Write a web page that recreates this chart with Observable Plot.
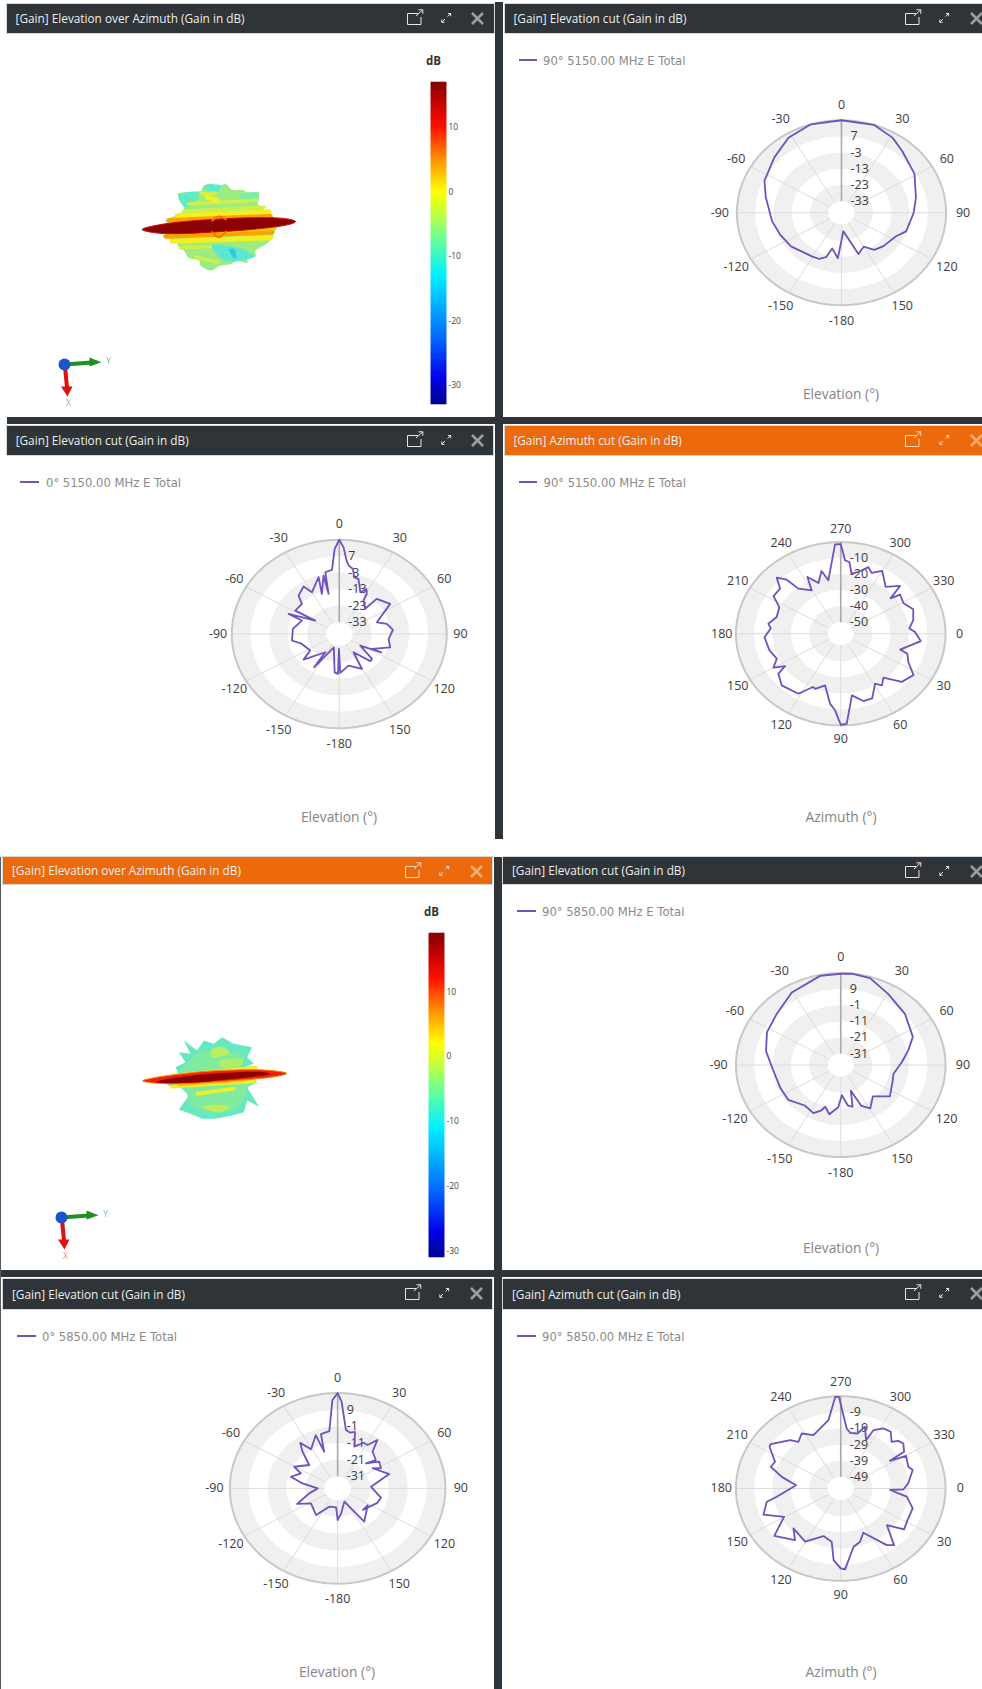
<!DOCTYPE html>
<html><head><meta charset="utf-8">
<script src="https://cdn.jsdelivr.net/npm/d3@7"></script>
<script src="https://cdn.jsdelivr.net/npm/@observablehq/plot@0.6"></script>
<style>
html,body{margin:0;padding:0;background:#fff}
#page{position:relative;width:982px;height:1689px;overflow:hidden;font-family:"Open Sans",sans-serif}
.abs{position:absolute}
.hdr{position:absolute;box-shadow:0 0 0 1px #d8d8d8;color:#eceff0;font-size:11.8px;white-space:nowrap}
.leg{position:absolute;color:#8a8a8a;font-family:"DejaVu Sans",sans-serif;font-size:11.6px;white-space:nowrap;line-height:14px}
.axt{position:absolute;color:#858585;font-size:13.8px;white-space:nowrap;transform:translate(-50%,-50%)}
svg{overflow:visible}
</style></head><body><div id="page"></div>
<script>
// ---- Polar cuts: angle (degrees) and gain (dB) ----
const el90_5150_ang=[0,18,31,41,59,77,90,108,116,132,142,150,160,175,184,193,197,203,211,233,248,262,283,295,313,328,343];
const el90_5150_db =[17,17,14,10.4,6.4,1.6,-0.7,-3,-7,-9.3,-11,-15.9,-13,-28.7,-12,-17.5,-11.4,-9.1,-8.7,-5.6,-4,-1.9,2.3,6.3,10,14.5,17];

const el0_5150_ang=[0,2.5,5,7,10.5,13,17,24,28,31,32.5,42,43,56,70.5,76.5,85,96.6,106.7,117.6,116.6,122.5,131,135,145.7,150.4,165.5,178.7,181,181.6,186,199.5,213.4,213.7,230.6,237,253,261,277,292.3,294.2,302.5,301.2,312.6,317,326.6,330.1,342.3,339.2,346.7,346.9,348.8,354.3,357.3];
const el0_5150_db =[17,12.4,4.5,1.6,-0.1,-4.9,-5.2,-12.5,-9.3,-11.7,-16.1,-19.6,-11,-7.5,-18.9,-14.1,-11.5,-13.7,-11.9,-20.5,-15.2,-26.9,-17.1,-16.8,-26.7,-15.7,-20.3,-16.5,-31,-15.9,-16.7,-31.5,-15.9,-26.8,-15.6,-21.7,-19.4,-14.7,-15.3,-18.7,-10.6,-25,-12.8,-13.2,-8.4,-5.7,-11,-4,-14.2,-3.8,-15.2,-2,-1.1,11.5];

const az90_5150_ang=[270,273,276,279,284,290,294,300,310,317.4,321,323,331,339,348,355,358.5,366,377,379,385.6,393,402,409.7,415,419,427,433.6,441,446.7,450,453.7,457.6,464.8,472,474.6,481.7,495,503.8,506.4,510,516,525,537,545,549,556.6,566.4,572.6,580.3,585,588.8,590.6,599.6,602.8,609,615,618.5,626.8];
const az90_5150_db =[-1.4,-11.4,-12.2,-19.3,-17.5,-13,-15.7,-11.9,-19,-13.2,-22.2,-16.6,-18,-14.8,-16.7,-19.6,-16.6,-13.3,-23.3,-18.7,-16.3,-9.8,-12.3,-21.2,-17.9,-20.8,-13.3,-13.4,-18.2,-0.9,-0.4,-9.3,-13.1,-23.8,-20.1,-20.6,-13.2,-11.6,-15,-20.7,-14.8,-19,-16.9,-15.5,-18.9,-17.2,-20.7,-19.8,-13.6,-13.8,-7.8,-12.4,-20.8,-25.8,-17.4,-23.3,-16.7,-23.2,-1.4];

const el90_5850_ang=[0,6,16.5,30.5,48,66,76,87,101,109,126,138,149,156,161,166,171,174,178,183,191.5,198,201,206.5,218,233,247,266,282,297,312,329.4,348.5];
const el90_5850_db =[18.6,19,18.2,13,9.1,4.9,-0.2,-4.8,-8.9,-8.2,-5,-12,-6.8,-10.4,-21.3,-11.5,-12.6,-15.9,-19.5,-11.9,-7,-10.9,-7.8,-4.8,-6.3,-2.3,-2.3,-1,3.5,7,9,14.3,18.4];

const el0_5850_ang=[0,2.3,7.2,11.3,15.2,19.5,26.7,31.4,36,40,50,45,54,62.4,57,72.6,87,103.7,113,134,122,144.8,147.7,156,173,180,184,202,215.5,237.6,246.5,258.8,270,279,285.7,294.8,299.4,313,319.8,324,329,340,342,344.8,352.7,357];
const el0_5850_db =[19,13.9,-2.9,-4.1,-3,-11.6,-7.5,-7.7,-2.3,-9.3,-11.7,-16.9,-10.9,-12.2,-16,-9.5,-20.4,-14.5,-15.5,-19.6,-19.3,-13.7,-21.6,-29.4,-23,-19.2,-26.7,-26.3,-18.5,-21.4,-14.7,-22.8,-27.6,-19.3,-12.4,-16.7,-11.7,-17.6,-9.3,-4.4,-10.8,-4.2,-15,-4.4,-3.5,14.9];

const az90_5850_ang=[269,275,278.4,285,289,294.8,296.3,302,307.8,313.9,316.8,320.8,326.7,327.5,330.4,340,343.8,355,361,362,368,377.5,388.3,396.3,402,410.3,414.4,425.8,432.3,439,447.3,450,455,458.5,467.7,480.5,496.2,487.9,501,510.4,519,528.5,531.6,544.8,552.6,559.4,564.8,573.6,575.7,587.3,591.3,598,605.7,614.8,621,627];
const az90_5850_db =[0.6,-18.9,-21.3,-20.9,-15.7,-23.2,-15.9,-12.3,-11.7,-16.1,-13.1,-12.1,-14.8,-24.3,-15.2,-16.9,-15.3,-19.2,-22,-29.2,-19.8,-15,-14.8,-13.3,-22.3,-10.6,-13,-26.1,-21.5,-19.4,-6,-6.7,-11.6,-22.8,-25.2,-17.9,-20.4,-15.6,-9.5,-20.6,-11,-15,-20.9,-31.7,-23.2,-15.7,-16.7,-9.5,-9.1,-15.5,-19.2,-16,-19.9,-16.6,-13.3,0.7];

// ---- Axis tick labels ----
const elevationLabels=[0,30,60,90,120,150,-180,-150,-120,-90,-60,-30];
const azimuthLabels=[270,300,330,0,30,60,90,120,150,180,210,240];
const radial5150El=[7,-3,-13,-23,-33];
const radial5850El=[9,-1,-11,-21,-31];
const radial5150Az=[-10,-20,-30,-40,-50];
const radial5850Az=[-9,-19,-29,-39,-49];
const colorbarTicks=[10,0,-10,-20,-30];

// ---- Texts ----
const titleEOA="[Gain] Elevation over Azimuth (Gain in dB)";
const titleEl="[Gain] Elevation cut (Gain in dB)";
const titleAz="[Gain] Azimuth cut (Gain in dB)";

// ---- Gain balloon outlines ----
const b1Blob=[[335,100],[355,108],[375,100],[395,118],[425,118],[445,128],[475,125],[470,150],[478,168],[505,188],[520,205],[530,225],[520,250],[510,270],[490,285],[465,300],[465,318],[440,320],[440,337],[410,330],[390,342],[360,345],[330,360],[300,345],[295,330],[265,322],[250,300],[235,290],[225,272],[195,258],[205,225],[195,210],[225,195],[250,180],[245,160],[232,130],[265,125],[300,122],[310,105]];
const b1Cyan1=[[235,132],[300,124],[285,150],[255,172]];
const b1Cyan2=[[312,106],[362,104],[350,125],[325,125]];
const b1Cyan3=[[335,284],[410,292],[462,318],[395,334],[360,322]];
const b1Cyan4=[[420,130],[472,128],[468,158],[430,150]];
const b1Blue=[[385,298],[402,296],[408,322],[396,318]];
const b1Lime=[[[300,130],[345,128]],[[265,160],[470,150]],[[250,182],[490,170]],[[240,292],[330,288]],[[285,320],[350,335]]];
const b1Yellow=[[[230,196],[505,184]],[[215,272],[510,262]],[[320,140],[350,150]]];
const b1Orange=[[[205,209],[510,197]],[[195,258],[515,245]]];
const b1YellowIn=[[[200,224],[518,208]],[[205,250],[520,235]]];
const b1Disk=[[125,237],[165,225],[225,216],[320,208],[440,202],[540,203],[585,213],[545,226],[440,238],[320,246],[225,250],[165,247]];
const b1RingTop=[[335,210],[355,198],[376,206]];
const b1RingBottom=[[335,245],[355,260],[376,244]];

const b2Blob=[[250,90],[290,120],[310,90],[340,100],[365,80],[400,100],[455,110],[440,140],[460,160],[430,170],[470,215],[440,230],[475,288],[440,270],[430,305],[395,315],[345,325],[305,325],[270,310],[235,297],[265,255],[240,230],[200,225],[240,200],[225,170],[255,155],[235,125],[270,130]];
const b2Lime1=[[300,125],[420,130],[430,170],[445,225],[410,290],[340,305],[280,290],[255,240],[235,195],[260,160]];
const b2Patch1=[[335,115],[370,110],[385,130],[335,140]];
const b2Patch2=[[310,285],[385,285],[360,305],[325,300]];
const b2Patch3=[[360,150],[420,145],[420,165],[365,170]];
const b2Yellow=[[[225,195],[465,172]],[[215,228],[460,212]],[[290,250],[400,235]]];
const b2Orange=[[[230,207],[460,183]],[[235,222],[440,206]]];
const b2Disk=[[127,212],[170,200],[260,188],[360,180],[480,178],[558,188],[505,201],[400,210],[300,217],[200,220]];
const b2Core=[[170,212],[260,197],[360,188],[470,184],[505,192],[400,205],[300,215],[200,218]];

const panelGrey="#f0f0f0";
const lineColor="#7150bf";
const dark="#2f3438";
const orange="#ec6a0c";
const page=document.getElementById("page");

function box(l,t,w,h,c){const d=document.createElement("div");d.className="abs";d.style.cssText=`left:${l}px;top:${t}px;width:${w}px;height:${h}px;background:${c}`;page.appendChild(d);}

function icons(iconColor,pop,exp,x){
  return `<svg class="abs" style="left:0;top:0" width="500" height="32" fill="none" stroke="${iconColor}">
  <path d="M${pop+11} 9.5H${pop+.5}V20.5H${pop+14}V13" stroke-width="1"/>
  <path d="M${pop+9} 12L${pop+15.5} 6M${pop+11.5} 5.8H${pop+15.8}V9.8" stroke-width="1"/>
  <path d="M${exp+1} 18L${exp+4} 15M${exp+.8} 15.5V18.3H${exp+3.6}M${exp+6.5} 12.5L${exp+9.5} 9.5M${exp+7} 9.5H${exp+9.7}V12.3" stroke-width="1"/>
  <path d="M${x+1} 9L${x+12} 20M${x+12} 9L${x+1} 20" stroke-width="2.6" opacity=".6"/></svg>`;
}
function header(l,t,r,b,txt,tx,col,pop,exp,x){
  const d=document.createElement("div");d.className="hdr";
  d.style.cssText=`left:${l}px;top:${t}px;width:${r-l}px;height:${b-t}px;background:${col};line-height:${b-t}px;overflow:hidden`;
  d.innerHTML=icons(col===orange?"#f8d8bf":"#e4e6e7",pop-l,exp-l,x-l)+`<span class="abs" style="left:${tx-l}px;top:0">${txt}</span>`;
  page.appendChild(d);
}
function legend(l,y,t,txt){
  box(l,y-0.9,18.5,1.8,lineColor);
  const d=document.createElement("div");d.className="leg";d.style.left=t+"px";d.style.top=(y-6)+"px";d.textContent=txt;page.appendChild(d);
}
function axisTitle(cx,y,txt){const d=document.createElement("div");d.className="axt";d.style.left=cx+"px";d.style.top=y+"px";d.textContent=txt;page.appendChild(d);}

// ---- Polar panel ----
const hole=0.125, pad=1.3;
function polar({cx,cy,rx,ry,ang,db,labels,radial,zero,lx,ly}){
  const step=radial[0]-radial[1], vmin=radial[4], vmax=radial[0]+step;
  const rho=v=>hole+(v-vmin)/(vmax-vmin)*(1-hole);
  const rad=a=>(a-zero)*Math.PI/180;
  const px=(a,r)=>r*Math.sin(rad(a)), py=(a,r)=>r*Math.cos(rad(a));
  const curve=ang.map((a,i)=>({a,v:db[i]})); curve.push(curve[0]);
  const circle=d3.range(0,361,3);
  const rings=[0,1,2,3,4,5].map(k=>({r:1-k*(1-hole)/5,fill:k===5?"#fff":(k%2?"#fff":panelGrey)}));
  const spokes=labels.map((l,i)=>({l,i,a:zero+i*30}));
  const marks=[];
  rings.forEach(rg=>marks.push(Plot.line(circle,{x:a=>rg.r*Math.sin(a*Math.PI/180),y:a=>rg.r*Math.cos(a*Math.PI/180),fill:rg.fill,stroke:"none"})));
  marks.push(Plot.link(spokes.slice(1),{x1:d=>px(d.a,hole),y1:d=>py(d.a,hole),x2:d=>px(d.a,1),y2:d=>py(d.a,1),stroke:"#dcdcdc",strokeWidth:1}));
  marks.push(Plot.line(circle,{x:a=>Math.sin(a*Math.PI/180),y:a=>Math.cos(a*Math.PI/180),stroke:"#c8c8c8",strokeWidth:2}));
  marks.push(Plot.link([0],{x1:()=>0,y1:()=>hole,x2:()=>0,y2:()=>1,stroke:"#a8a8a8",strokeWidth:1.6}));
  marks.push(Plot.text(radial,{x:()=>9/rx,y:v=>rho(v),text:v=>String(v),textAnchor:"start",fill:"#3c3c3c",fontSize:12.5}));
  marks.push(Plot.line(curve,{x:d=>px(d.a,rho(d.v)),y:d=>py(d.a,rho(d.v)),stroke:lineColor,strokeWidth:1.8,curve:"linear"}));
  marks.push(Plot.text(spokes,{x:d=>px(d.a,lx),y:d=>py(d.a,ly),text:d=>String(d.l),fill:"#3c3c3c",fontSize:12.5}));
  const w=2*pad*rx,h=2*pad*ry;
  const svg=Plot.plot({width:w,height:h,margin:0,x:{domain:[-pad,pad],axis:null},y:{domain:[-pad,pad],axis:null},
    style:{background:"transparent",fontFamily:"'Open Sans',sans-serif"},marks});
  svg.style.cssText+=`;position:absolute;left:${cx-w/2}px;top:${cy-h/2}px`;
  page.appendChild(svg);
}

// ---- Colour bar ----
const jetDomainOffsets=[-33,-29,-23,-13,-7,-3.5,0,5,10,14,17];
const jetColors=["#00008f","#0000e8","#0064ff","#00f0ff","#70ff90","#c0ff40","#ffff00","#ff9000","#ff1000","#c00000","#800000"];
function colorbar({top,bottom,left,vmin,vmax,label,labelTop}){
  const stops=d3.range(vmin,vmax,0.1);
  const off=vmin+33;
  const svg=Plot.plot({width:45,height:bottom-top,margin:0,marginRight:30,
    x:{domain:[0,1],axis:null},y:{domain:[vmin,vmax],axis:null},
    color:{type:"linear",domain:jetDomainOffsets.map(d=>d+off),range:jetColors,interpolate:"rgb"},
    style:{background:"transparent",fontFamily:"'Open Sans',sans-serif"},
    marks:[
      Plot.rect(stops,{x1:()=>0,x2:()=>1,y1:d=>d,y2:d=>d+0.1,fill:d=>d,stroke:d=>d,strokeWidth:.6}),
      Plot.axisY(colorbarTicks,{anchor:"right",tickSize:0,tickPadding:2,tickFormat:d=>String(d),fontSize:8.5,fill:"#444",label:null})
    ]});
  svg.style.cssText+=`;position:absolute;left:${left}px;top:${top}px`;
  page.appendChild(svg);
  const d=document.createElement("div");d.className="abs";d.style.cssText=`left:${left-5}px;top:${labelTop-7}px;font:bold 11.5px/14px 'Open Sans',sans-serif;color:#333`;d.textContent=label;page.appendChild(d);
}

// ---- Balloon ----
function layer(pts,fill,curve="cardinal-closed",extra={}){
  return Plot.line(pts,{x:d=>d[0],y:d=>d[1],fill,stroke:"none",curve,...extra});
}
function stripes(list,color,w){
  return list.map(s=>Plot.line(s,{x:d=>d[0],y:d=>d[1],stroke:color,strokeWidth:w,strokeLinecap:"round"}));
}
function balloon(left,top,layers){
  const svg=Plot.plot({width:240,height:150,margin:0,x:{domain:[0,720],axis:null},y:{domain:[450,0],axis:null},
    style:{background:"transparent",filter:"blur(0.7px)"},marks:layers});
  svg.style.cssText+=`;position:absolute;left:${left}px;top:${top}px`;
  page.appendChild(svg);
}
// ---- Triad ----
const triadGreenHead=[[44,7],[56,11.7],[44,16]];
const triadRedHead=[[15.5,36],[27,36],[22,46]];
function triad(left,top){
  const svg=Plot.plot({width:75,height:60,margin:0,x:{domain:[0,75],axis:null},y:{domain:[60,0],axis:null},
    style:{background:"transparent",filter:"blur(0.3px)",fontFamily:"'Open Sans',sans-serif"},
    marks:[
      Plot.link([0],{x1:()=>19,y1:()=>14,x2:()=>46,y2:()=>12,stroke:"#1f8f1f",strokeWidth:4}),
      layer(triadGreenHead,"#1f8f1f","linear-closed"),
      Plot.link([0],{x1:()=>19.5,y1:()=>16,x2:()=>21.5,y2:()=>37,stroke:"#dd1111",strokeWidth:4}),
      layer(triadRedHead,"#dd1111","linear-closed"),
      Plot.dot([0],{x:()=>19,y:()=>14,r:6,fill:"#1b55c9"}),
      Plot.text(["Y"],{x:()=>63,y:()=>11,text:d=>d,fill:"#7fc77f",fontSize:8.5}),
      Plot.text(["X"],{x:()=>23,y:()=>53,text:d=>d,fill:"#f08a8a",fontSize:8.5})
    ]});
  svg.style.cssText+=`;position:absolute;left:${left}px;top:${top}px`;
  page.appendChild(svg);
}

// ---- Frame ----
box(495,2,8,837,dark);
box(7,417,975,7,dark);
box(494,857,7.5,832,dark);
box(0,1270,982,7,dark);
box(0,857,1.2,832,"#555b60");

// ---- Headers ----
header(7,4,494,33,titleEOA,15.6,dark,407,441,471);
header(505,4,982,33,titleEl,513.5,dark,905,939,970);
header(7,426,493,455,titleEl,15.7,dark,407,441,471);
header(505,426,982,455,titleAz,513.4,orange,905,939,970);
header(3,857,492,884,titleEOA,12,orange,405,439,470);
header(503,857,982,884,titleEl,512,dark,905,939,970);
header(3,1279,492,1309,titleEl,12,dark,405,439,470);
header(503,1279,982,1309,titleAz,512,dark,905,939,970);

// ---- Legends & axis titles ----
legend(518.5,60,543,"90° 5150.00 MHz E Total");
legend(20,482,46,"0° 5150.00 MHz E Total");
legend(518.5,482,543.5,"90° 5150.00 MHz E Total");
legend(517,911,542,"90° 5850.00 MHz E Total");
legend(17,1336,42,"0° 5850.00 MHz E Total");
legend(517,1336,542,"90° 5850.00 MHz E Total");
axisTitle(841,393,"Elevation (°)");
axisTitle(339,815.5,"Elevation (°)");
axisTitle(841,815.5,"Azimuth (°)");
axisTitle(841,1247,"Elevation (°)");
axisTitle(337,1671,"Elevation (°)");
axisTitle(841,1671,"Azimuth (°)");

// ---- Polar charts ----
polar({cx:841,cy:212,rx:104.6,ry:92.5,ang:el90_5150_ang,db:el90_5150_db,labels:elevationLabels,radial:radial5150El,zero:0,lx:1.163,ly:1.17});
polar({cx:339,cy:633.3,rx:107.5,ry:94.2,ang:el0_5150_ang,db:el0_5150_db,labels:elevationLabels,radial:radial5150El,zero:0,lx:1.127,ly:1.172});
polar({cx:840.7,cy:633.3,rx:104.8,ry:91.7,ang:az90_5150_ang,db:az90_5150_db,labels:azimuthLabels,radial:radial5150Az,zero:270,lx:1.135,ly:1.145});
polar({cx:840.7,cy:1064.3,rx:104.8,ry:92,ang:el90_5850_ang,db:el90_5850_db,labels:elevationLabels,radial:radial5850El,zero:0,lx:1.166,ly:1.176});
polar({cx:336.7,cy:1488.3,rx:107.8,ry:95.3,ang:el0_5850_ang,db:el0_5850_db,labels:elevationLabels,radial:radial5850El,zero:0,lx:1.143,ly:1.158});
polar({cx:840.7,cy:1488.3,rx:104.8,ry:92.3,ang:az90_5850_ang,db:az90_5850_db,labels:azimuthLabels,radial:radial5850Az,zero:270,lx:1.14,ly:1.15});

// ---- Colour bars ----
colorbar({top:82,bottom:404,left:431,vmin:-33,vmax:17,label:"dB",labelTop:61});
colorbar({top:933,bottom:1257,left:429,vmin:-31,vmax:19,label:"dB",labelTop:912});

// ---- Balloons ----
balloon(100,150,[
  layer(b1Blob,"#9cec80"),
  layer(b1Cyan1,"#62ecc4"),layer(b1Cyan2,"#5cecd0"),layer(b1Cyan4,"#7ceca8"),layer(b1Cyan3,"#5ce8d0"),layer(b1Blue,"#30c8e8"),
  ...stripes(b1Lime,"#cdf04c",3.5),
  ...stripes(b1Yellow,"#f2f020",5),
  ...stripes(b1Orange,"#ffa000",4.5),
  ...stripes(b1YellowIn,"#ffd000",3),
  layer(b1Disk,"#8b0000","cardinal-closed",{stroke:"#cc0808",strokeWidth:1}),
  Plot.line(b1RingTop,{x:d=>d[0],y:d=>d[1],curve:"cardinal",stroke:"#ff7000",strokeWidth:2}),
  Plot.line(b1RingBottom,{x:d=>d[0],y:d=>d[1],curve:"cardinal",stroke:"#ff7000",strokeWidth:2})
]);
balloon(100,1010,[
  layer(b2Blob,"#66e8c0","linear-closed"),layer(b2Lime1,"#80ea9e"),layer(b2Patch1,"#b8ee60"),layer(b2Patch2,"#c0ee58"),layer(b2Patch3,"#b0ee68"),
  ...stripes(b2Yellow,"#e8f030",4),
  ...stripes(b2Orange,"#ffc000",3.5),
  layer(b2Disk,"#ee2008","cardinal-closed",{stroke:"#ff8000",strokeWidth:1}),
  layer(b2Core,"#8b0000","cardinal-closed")
]);
triad(45,350);
triad(42,1203);
</script></body></html>
